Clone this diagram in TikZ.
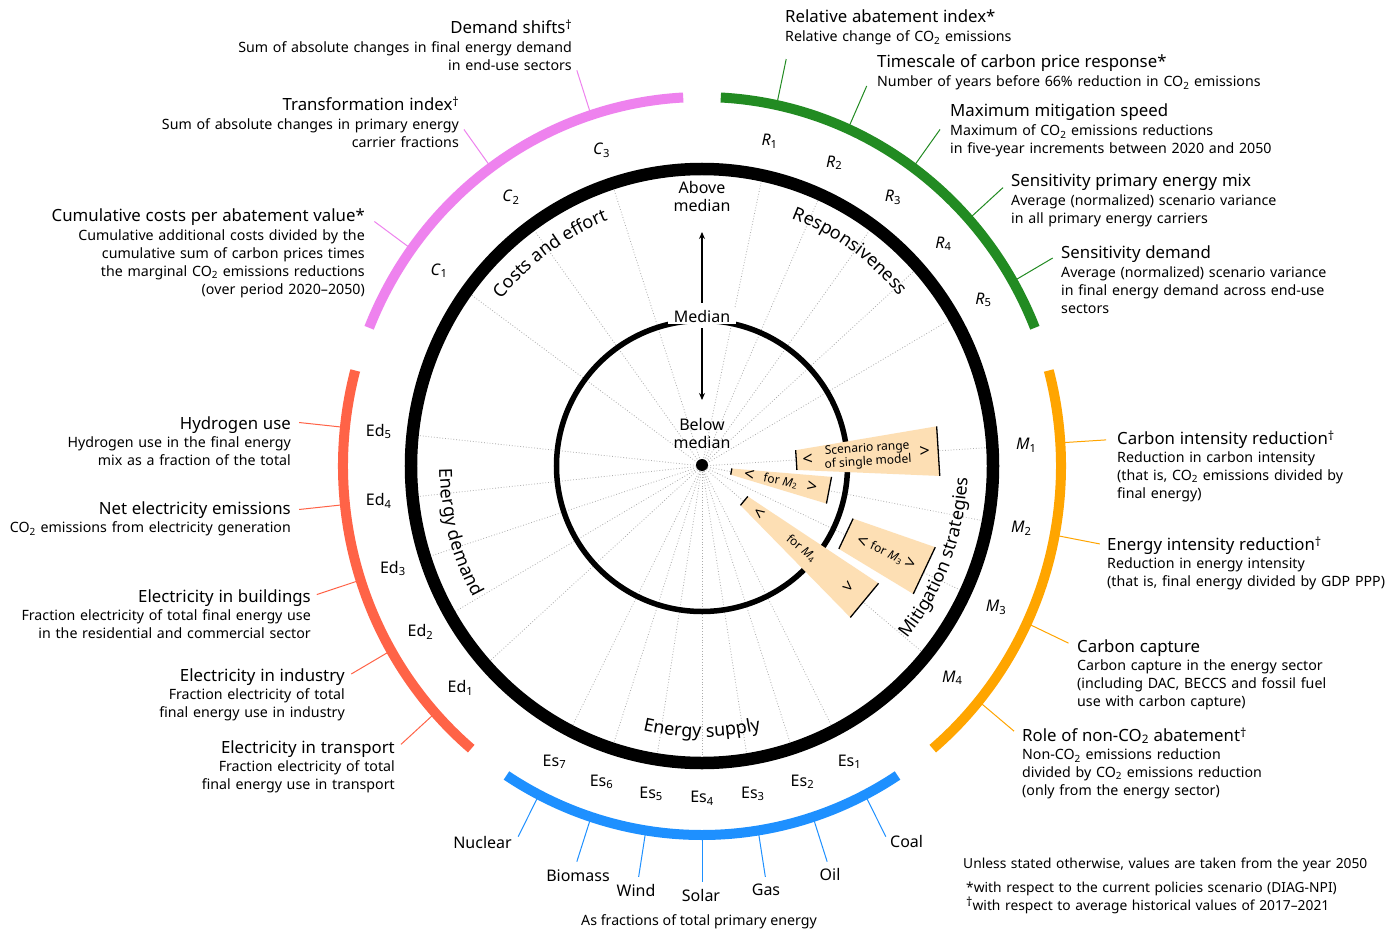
\documentclass[tikz,border=0pt]{standalone}
\usepackage{fontspec}
\setmainfont{Noto Sans}
\usetikzlibrary{decorations.text,arrows.meta}
\definecolor{cpink}{HTML}{EE82EE}
\definecolor{cgreen}{HTML}{228B22}
\definecolor{corange}{HTML}{FFA500}
\definecolor{cred}{HTML}{FF6347}
\definecolor{cblue}{HTML}{1E90FF}
\definecolor{wfill}{HTML}{FDDFB4}
\newcommand\ttlf{\fontsize{16.8}{20}\selectfont}
\newcommand\subf{\fontsize{14.2}{17.8}\selectfont}
\newcommand\labf{\fontsize{16}{18}\selectfont}
\newcommand\secf{\fontsize{18}{20}\selectfont}
\newcommand\wf{\fontsize{12}{13.5}\selectfont}
\newcommand\dg{\raisebox{4pt}{\fontsize{12.5}{12.5}\selectfont †}}
\newcommand\cotwo{CO\textsubscript{2}}
\newcommand\ix[2]{\textit{#1}\textsubscript{#2}}
\begin{document}
\begin{tikzpicture}[x=1pt,y=1pt,
  lab/.style={font=\labf, inner sep=0pt},
  blkR/.style={anchor=base east, text width=430pt, align=right, inner sep=0pt, font=\subf},
  blkL/.style={anchor=base west, text width=430pt, align=left, inner sep=0pt, font=\subf},
  lead/.style={line width=1pt},
  ring/.style={line width=10pt},
  spoke/.style={draw=gray!65, dotted, line width=0.8pt},
  wtxt/.style={font=\wf, inner sep=0pt},
  wbr/.style={font=\fontsize{18}{18}\selectfont\bfseries, inner sep=0pt},
  arr/.style={line width=1.8pt, -{Stealth[length=7pt,width=6pt]}},
  one/.style={font=\labf, inner sep=0pt}
]
\useasboundingbox (-702,-463) rectangle (694,466);
\fill[white] (-702,-463) rectangle (694,466);

% spokes
\foreach \a in {144,126,108,78,66,54,42,30,3.6,-10.8,-25.2,-39.6,297,288,279,270,261,252,243,222,210,198,186,174}
  \draw[spoke] (0,0) -- (\a:285pt and 291pt);

% leaders and index labels
\foreach \a/\n in {144/1,126/2,108/3}{
  \coordinate (cs\n) at (\a:359pt and 369pt);
  \coordinate (ce\n) at (\a:405pt and 416pt);
  \draw[lead,cpink] (cs\n) -- (ce\n);
  \node[lab] (lc\n) at (\a:325pt and 332pt) {\ix{C}{\n}};
}
\foreach \a/\n in {78/1,66/2,54/3,42/4,30/5}{
  \coordinate (rs\n) at (\a:359pt and 369pt);
  \coordinate (re\n) at (\a:405pt and 416pt);
  \draw[lead,cgreen] (rs\n) -- (re\n);
  \node[lab] (lr\n) at (\a:325pt and 332pt) {\ix{R}{\n}};
}
\foreach \a/\n in {3.6/1,-10.8/2,-25.2/3,-39.6/4}{
  \coordinate (ms\n) at (\a:359pt and 369pt);
  \coordinate (me\n) at (\a:405pt and 416pt);
  \draw[lead,corange] (ms\n) -- (me\n);
  \node[lab] (lm\n) at (\a:325pt and 332pt) {\ix{M}{\n}};
}
\foreach \a/\n in {297/1,288/2,279/3,270/4,261/5,252/6,243/7}{
  \coordinate (ss\n) at (\a:359pt and 369pt);
  \coordinate (se\n) at (\a:405pt and 416pt);
  \draw[lead,cblue] (ss\n) -- (se\n);
  \node[lab] (ls\n) at (\a:325pt and 332pt) {Es\textsubscript{\n}};
}
\foreach \a/\n in {222/1,210/2,198/3,186/4,174/5}{
  \coordinate (ds\n) at (\a:359pt and 369pt);
  \coordinate (de\n) at (\a:405pt and 416pt);
  \draw[lead,cred] (ds\n) -- (de\n);
  \node[lab] (ld\n) at (\a:325pt and 332pt) {Ed\textsubscript{\n}};
}

% coloured arcs
\draw[ring,cpink] (93:359pt and 369pt) arc[start angle=93,end angle=158,x radius=359pt,y radius=369pt];
\draw[ring,cred] (165:359pt and 369pt) arc[start angle=165,end angle=230,x radius=359pt,y radius=369pt];
\draw[ring,cblue] (237:359pt and 369pt) arc[start angle=237,end angle=303,x radius=359pt,y radius=369pt];
\draw[ring,corange] (-50:359pt and 369pt) arc[start angle=-50,end angle=15,x radius=359pt,y radius=369pt];
\draw[ring,cgreen] (22:359pt and 369pt) arc[start angle=22,end angle=87,x radius=359pt,y radius=369pt];

% black rings
\draw[line width=12.5pt] (0,0) ellipse[x radius=291pt, y radius=297pt];
\draw[line width=5.5pt] (0,0) circle[radius=145.5pt];

% wedges
\foreach \a/\ra/\rb in {3.6/95/238, -10.8/30/130, -25.2/160/247, -39.6/55/212}{
  \fill[wfill] ({\a-6}:\ra) -- ({\a+6}:\ra) -- ({\a+6}:\rb) -- ({\a-6}:\rb) -- cycle;
  \draw[line width=1.3pt] ({\a-6}:\ra) -- ({\a+6}:\ra);
  \draw[line width=1.3pt] ({\a-6}:\rb) -- ({\a+6}:\rb);
}
\node[wbr, rotate=3.6] (w1a) at (3.6:106) {<};
\node[wtxt, rotate=3.6, align=center] (w1t) at (3.6:166) {Scenario range\\of single model};
\node[wbr, rotate=3.6] (w1b) at (3.6:223) {>};
\node[wbr, rotate=-10.8] (w2a) at (-10.8:48) {<};
\node[wtxt, rotate=-10.8] (w2t) at (-10.8:80) {for \ix{M}{2}};
\node[wbr, rotate=-10.8] (w2b) at (-10.8:112) {>};
\node[wbr, rotate=-25.2] (w3a) at (-25.2:177) {<};
\node[wtxt, rotate=-25.2] (w3t) at (-25.2:204) {for \ix{M}{3}};
\node[wbr, rotate=-25.2] (w3b) at (-25.2:230) {>};
\node[wbr, rotate=-39.6] (w4a) at (-39.6:74) {<};
\node[wtxt, rotate=-39.6] (w4t) at (-39.6:129) {for \ix{M}{4}};
\node[wbr, rotate=-39.6] (w4b) at (-39.6:190) {>};

% centre
\fill (0,1) circle[radius=6pt];
\node[font=\labf, fill=white, inner xsep=6pt, inner ysep=2pt] (med) at (0,150) {Median};
\node[font=\labf, align=center, inner sep=0pt] (abv) at (0,269) {Above\\median};
\node[font=\labf, align=center, inner sep=0pt] (blw) at (0,32.5) {Below\\median};
\coordinate (uptip) at (0,234);
\coordinate (dntip) at (0,66);
\draw[arr, shorten <=5pt] (med.north) -- (uptip);
\draw[arr, shorten <=4pt] (med.south) -- (dntip);

% sector titles
\path[decorate, decoration={text along path, text align=center, text={|\secf|Costs and effort}}]
  (156:258pt and 264pt) arc[start angle=156, end angle=96, x radius=258pt, y radius=264pt];
\path[decorate, decoration={text along path, text align=center, text={|\secf|Responsiveness}}]
  (85:258pt and 264pt) arc[start angle=85, end angle=25, x radius=258pt, y radius=264pt];
\path[decorate, decoration={text along path, text align=center, text={|\secf|Mitigation strategies}}]
  (-51:266pt and 272pt) arc[start angle=-51, end angle=9, x radius=266pt, y radius=272pt];
\path[decorate, decoration={text along path, text align=center, text={|\secf|Energy supply}}]
  (240:264pt and 271pt) arc[start angle=240, end angle=300, x radius=264pt, y radius=271pt];
\path[decorate, decoration={text along path, text align=center, text={|\secf|Energy demand}}]
  (165:262pt and 268pt) arc[start angle=165, end angle=225, x radius=262pt, y radius=268pt];

% left blocks
\node[blkR] (tC3) at (-130,432) {{\ttlf Demand shifts\dg}\\[1pt] Sum of absolute changes in final energy demand\\ in end-use sectors};
\node[blkR] (tC2) at (-243,355) {{\ttlf Transformation index\dg}\\[1pt] Sum of absolute changes in primary energy\\ carrier fractions};
\node[blkR] (tC1) at (-337,244) {{\ttlf Cumulative costs per abatement value*}\\[1pt] Cumulative additional costs divided by the\\ cumulative sum of carbon prices times\\ the marginal \cotwo{} emissions reductions\\ (over period 2020–2050)};
\node[blkR] (tD5) at (-411,37) {{\ttlf Hydrogen use}\\[1pt] Hydrogen use in the final energy\\ mix as a fraction of the total};
\node[blkR] (tD4) at (-411,-48) {{\ttlf Net electricity emissions}\\[1pt] \cotwo{} emissions from electricity generation};
\node[blkR] (tD3) at (-391,-136) {{\ttlf Electricity in buildings}\\[1pt] Fraction electricity of total final energy use\\ in the residential and commercial sector};
\node[blkR] (tD2) at (-357,-215) {{\ttlf Electricity in industry}\\[1pt] Fraction electricity of total\\ final energy use in industry};
\node[blkR] (tD1) at (-307,-287) {{\ttlf Electricity in transport}\\[1pt] Fraction electricity of total\\ final energy use in transport};

% right blocks
\node[blkL] (tR1) at (83,443) {{\ttlf Relative abatement index*}\\[1pt] Relative change of \cotwo{} emissions};
\node[blkL] (tR2) at (175,398) {{\ttlf Timescale of carbon price response*}\\[1pt] Number of years before 66\% reduction in \cotwo{} emissions};
\node[blkL] (tR3) at (248,349) {{\ttlf Maximum mitigation speed}\\[1pt] Maximum of \cotwo{} emissions reductions\\ in five-year increments between 2020 and 2050};
\node[blkL] (tR4) at (309,279) {{\ttlf Sensitivity primary energy mix}\\[1pt] Average (normalized) scenario variance\\ in all primary energy carriers};
\node[blkL] (tR5) at (359,207) {{\ttlf Sensitivity demand}\\[1pt] Average (normalized) scenario variance\\ in final energy demand across end-use\\ sectors};
\node[blkL] (tM1) at (415,22) {{\ttlf Carbon intensity reduction\dg}\\[1pt] Reduction in carbon intensity\\ (that is, \cotwo{} emissions divided by\\ final energy)};
\node[blkL] (tM2) at (405,-84) {{\ttlf Energy intensity reduction\dg}\\[1pt] Reduction in energy intensity\\ (that is, final energy divided by GDP PPP)};
\node[blkL] (tM3) at (375,-186) {{\ttlf Carbon capture}\\[1pt] Carbon capture in the energy sector\\ (including DAC, BECCS and fossil fuel\\ use with carbon capture)};
\node[blkL] (tM4) at (320,-275) {{\ttlf Role of non-\cotwo{} abatement\dg}\\[1pt] Non-\cotwo{} emissions reduction\\ divided by \cotwo{} emissions reduction\\ (only from the energy sector)};

% energy supply labels
\node[one, anchor=base east] (nuc) at (-190,-382) {Nuclear};
\node[one, anchor=base] (bio) at (-124,-415) {Biomass};
\node[one, anchor=base] (wnd) at (-66,-430) {Wind};
\node[one, anchor=base] (sol) at (-1,-435) {Solar};
\node[one, anchor=base] (gas) at (64,-429) {Gas};
\node[one, anchor=base] (oil) at (128,-414) {Oil};
\node[one, anchor=base west] (coal) at (188,-381) {Coal};
\node[font=\subf, anchor=base, inner sep=0pt] (frac) at (-3,-459) {As fractions of total primary energy};

% notes
\node[blkL, font=\fontsize{13.8}{18}\selectfont] (n1) at (261,-402) {Unless stated otherwise, values are taken from the year 2050};
\node[blkL, font=\fontsize{13.8}{18}\selectfont] (n2) at (264,-426) {*with respect to the current policies scenario (DIAG-NPI)\\ \dg with respect to average historical values of 2017–2021};
\end{tikzpicture}
\end{document}
